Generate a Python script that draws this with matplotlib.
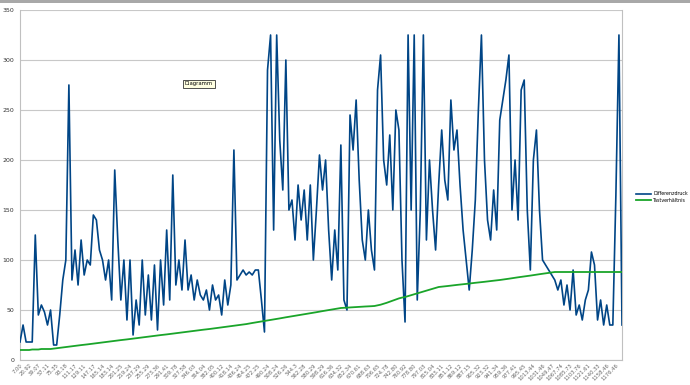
import numpy as np
import matplotlib
matplotlib.use("Agg")
import matplotlib.pyplot as plt
from matplotlib.patches import Rectangle

# x category labels (shown every 3rd point)
tick_labels = [
    "7.00", "20.92", "39.07", "57.11", "75.35", "93.18", "111.17", "129.11",
    "147.17", "165.14", "183.14", "201.25", "219.24", "237.29", "255.29", "273.36",
    "291.41", "309.78", "327.58", "346.03", "364.04", "382.05", "400.12", "418.14",
    "436.24", "454.25", "472.25", "490.24", "508.24", "526.26", "544.3", "562.28",
    "580.29", "598.29", "616.36", "634.32", "652.34", "670.61", "688.63", "706.65",
    "724.78", "742.80", "760.92", "778.80", "797.03", "815.04", "833.11", "851.12",
    "869.12", "887.15", "905.32", "923.32", "941.34", "959.36", "977.41", "995.45",
    "1013.44", "1031.46", "1049.47", "1067.74", "1085.73", "1103.76", "1121.61",
    "1140.33", "1158.46", "1176.46",
]

differenzdruck = [
    18, 35, 18, 18, 18, 125, 45, 55, 48, 35,
    50, 15, 15, 45, 80, 100, 275, 80, 110, 75,
    120, 85, 100, 95, 145, 140, 110, 100, 80, 100,
    60, 190, 120, 60, 100, 40, 100, 25, 60, 35,
    100, 45, 85, 40, 95, 30, 100, 55, 130, 60,
    185, 75, 100, 70, 120, 70, 85, 60, 80, 65,
    60, 70, 50, 75, 60, 65, 45, 80, 55, 75,
    210, 80, 85, 90, 85, 88, 85, 90, 90, 60,
    28, 290, 325, 130, 325, 220, 170, 300, 150, 160,
    120, 175, 140, 170, 120, 175, 100, 150, 205, 170,
    200, 130, 80, 130, 90, 215, 60, 50, 245, 210,
    260, 180, 120, 100, 150, 110, 90, 270, 305, 200,
    175, 225, 150, 250, 230, 100, 38, 325, 150, 325,
    60, 150, 325, 120, 200, 150, 110, 175, 230, 180,
    160, 260, 210, 230, 175, 130, 100, 70, 110, 160,
    250, 325, 200, 140, 120, 170, 130, 240, 260, 280,
    305, 150, 200, 140, 270, 280, 150, 90, 200, 230,
    150, 100, 95, 90, 85, 80, 70, 80, 55, 75,
    50, 90, 45, 55, 40, 60, 70, 108, 95, 40,
    60, 35, 55, 35, 35, 165, 325, 35,
]

tastverhaeltnis = [
    10, 10, 10, 10, 10.5, 10.5, 10.5, 11, 11, 11,
    11, 11.4, 11.8, 12.2, 12.6, 13, 13.3, 13.7, 14.1, 14.5,
    14.9, 15.2, 15.6, 16, 16.4, 16.8, 17.2, 17.5, 17.9, 18.3,
    18.7, 19.1, 19.5, 19.9, 20.2, 20.6, 21, 21.4, 21.8, 22.2,
    22.6, 22.9, 23.3, 23.7, 24.1, 24.5, 24.9, 25.2, 25.6, 26,
    26.4, 26.8, 27.2, 27.6, 28, 28.3, 28.7, 29.1, 29.5, 29.9,
    30.3, 30.6, 31, 31.4, 31.8, 32.2, 32.6, 33, 33.3, 33.7,
    34.1, 34.5, 34.9, 35.4, 35.9, 36.5, 37, 37.5, 38, 38.5,
    39, 39.6, 40.1, 40.6, 41.1, 41.6, 42.2, 42.7, 43.2, 43.7,
    44.2, 44.7, 45.3, 45.8, 46.3, 46.8, 47.3, 47.8, 48.4, 48.9,
    49.4, 49.9, 50.4, 50.9, 51.5, 52, 52.2, 52.4, 52.5, 52.7,
    52.9, 53.1, 53.3, 53.5, 53.6, 53.8, 54, 54.6, 55.3, 56.2,
    57.2, 58.3, 59.5, 60.6, 61.6, 62.4, 63, 63.9, 64.8, 65.7,
    66.6, 67.5, 68.4, 69.3, 70.2, 71.1, 72, 73, 73.3, 73.7,
    74, 74.4, 74.7, 75.1, 75.4, 75.8, 76.1, 76.5, 76.8, 77.2,
    77.5, 77.9, 78.2, 78.6, 78.9, 79.3, 79.6, 80, 80.4, 80.9,
    81.3, 81.8, 82.2, 82.7, 83.1, 83.6, 84, 84.4, 84.9, 85.3,
    85.8, 86.2, 86.7, 87.1, 87.6, 88, 88, 88, 88, 88,
    88, 88, 88, 88, 88, 88, 88, 88, 88, 88,
    88, 88, 88, 88, 88, 88, 88, 88,
]

n = max(len(differenzdruck), len(tastverhaeltnis))

fig = plt.figure(figsize=(6.9, 3.85), dpi=100)
ax = fig.add_axes([20 / 690, 25 / 385, 602 / 690, 350 / 385])

ax.plot(np.arange(len(differenzdruck)), differenzdruck, color="#004586", lw=1.2,
        label="Differenzdruck", zorder=3)
ax.plot(np.arange(len(tastverhaeltnis)), tastverhaeltnis, color="#1aa52a", lw=1.3,
        label="Tastverhältnis", zorder=3)

ax.set_xlim(0, n - 1)
ax.set_ylim(0, 350)
ax.set_yticks(range(0, 351, 50))
ax.yaxis.grid(True, color="#c8c8c8", lw=0.8)
ax.set_axisbelow(True)

ticks = np.arange(0, 3 * len(tick_labels), 3)
ax.set_xticks(ticks)
ax.set_xticklabels(tick_labels, rotation=45, ha="right", rotation_mode="anchor",
                   fontsize=3.8, color="#666666")
ax.tick_params(axis="x", length=0, pad=2)
ax.tick_params(axis="y", length=0, pad=4, labelsize=4.5, labelcolor="#333333")

ax.spines["top"].set_visible(False)
for side in ["left", "right", "bottom"]:
    ax.spines[side].set_color("#c0c0c0")
    ax.spines[side].set_linewidth(0.8)

fig.legend(loc="center left", bbox_to_anchor=(636 / 690, 1 - 197 / 385),
           frameon=False, fontsize=3.4, handlelength=3.2, handletextpad=0.4,
           labelspacing=0.3, borderpad=0, borderaxespad=0)

# tooltip box from the screenshot
fig.text(199 / 690, 1 - 84 / 385, "Diagramm", fontsize=3.8, ha="center", va="center",
         bbox=dict(boxstyle="square,pad=0.3", fc="#ffffe1", ec="#333333", lw=0.6))

# thin toolbar strip at the top of the screenshot
fig.patches.append(Rectangle((0, 1 - 3 / 385), 1, 3 / 385, transform=fig.transFigure,
                             fc="#a8a8a8", ec="none", zorder=0))

fig.savefig("out.png", dpi=100)
